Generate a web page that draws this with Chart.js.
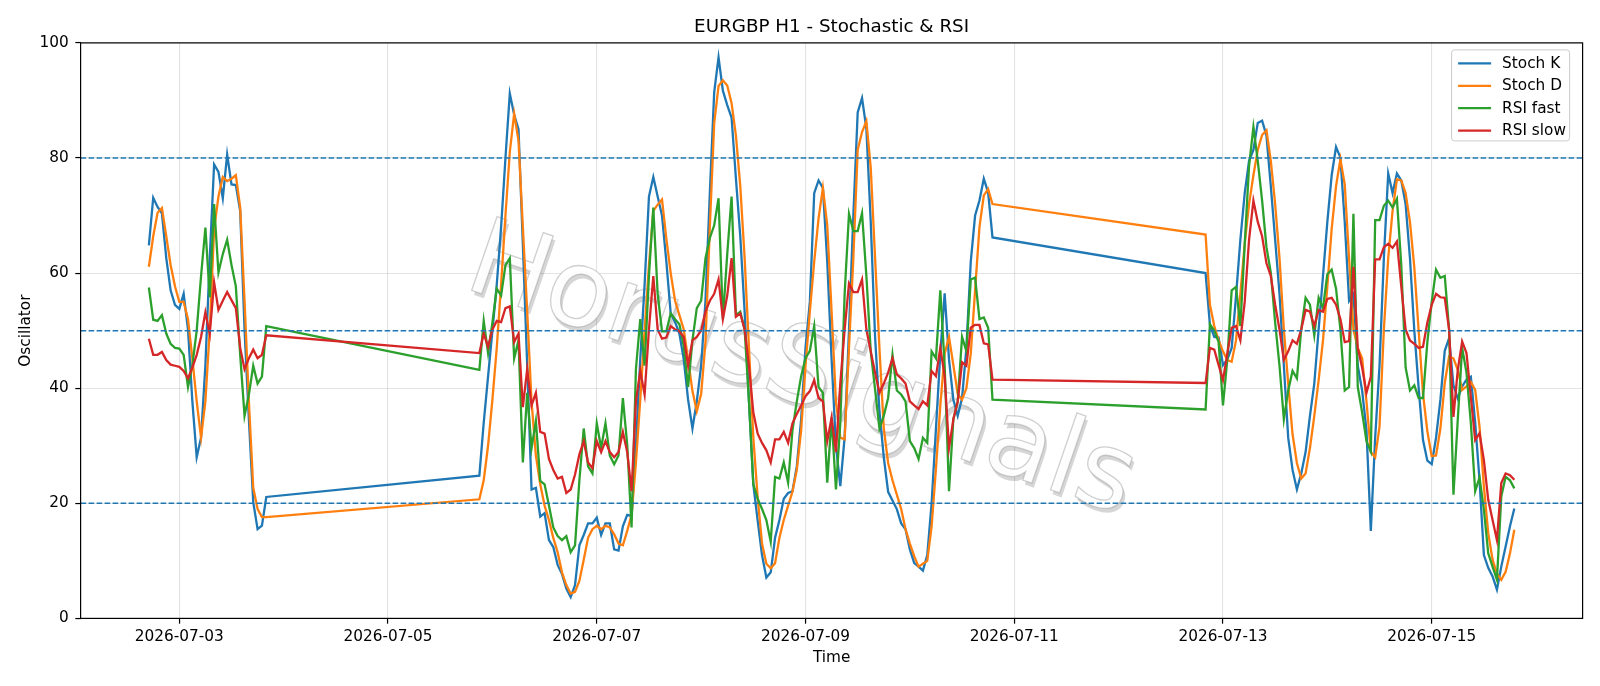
<!DOCTYPE html>
<html>
<head>
<meta charset="utf-8">
<script src="https://cdn.jsdelivr.net/npm/chart.js@4.4.1/dist/chart.umd.min.js"></script>
<style>html,body{margin:0;padding:0;background:#fff;}canvas{display:block;}</style>
</head>
<body>
<canvas id="c" width="1600" height="686"></canvas>
<script>
const chartTitle = 'EURGBP H1 - Stochastic & RSI';
const xAxisLabel = 'Time';
const yAxisLabel = 'Oscillator';
const watermarkText = 'HorusSignals';

// hourly sessions (weekend gaps between them)
const sessionStarts = ['2026-07-02T17:00:00Z', '2026-07-05T21:00:00Z', '2026-07-12T20:00:00Z'];
const sessionBars = [28, 119, 72];

const seriesNames = ['Stoch K', 'Stoch D', 'RSI fast', 'RSI slow'];
const seriesColors = ['#1f77b4', '#ff7f0e', '#2ca02c', '#d62728'];
const levelLines = [20, 50, 80];
const xTickDates = ['2026-07-03', '2026-07-05', '2026-07-07', '2026-07-09', '2026-07-11', '2026-07-13', '2026-07-15'];

const stochK = [
 64.8,73.1,71.5,70.4,62.6,57,54.5,53.8,56.4,50.2,37.7,28,31.4,44,62.6,78.9,77.6,73,80.6,75.4,75.3,70.8,50.2,34.6,20.2,15.5,16.1,21.1,
 24.8,34,42,50,58,68,80,91.2,87.5,85,
 65,44,22.4,22.7,17.7,18.3,13.6,12.4,9.3,7.7,
 5.2,3.7,5.8,12.7,14.5,16.5,16.5,17.5,14.5,16.5,
 16.5,12,11.8,16,18,17.8,30,45,58,73.3,
 76.7,73.3,70,62,53,51.5,49.5,45,38,33,
 37.7,43.9,55.2,73.9,91.4,97.5,91.7,89.2,87,76.4,
 66.4,53.3,37.7,23.3,17,11,7.1,8,14,17.1,
 20.8,21.8,22.1,26.4,34.6,47,55,73.9,76.1,74.8,
 62,45,30,23,31.5,50,70,87.9,90.4,85.1,
 68.9,48.9,36,28,22,20.5,19,16.5,15.5,12,
 9.6,9,8.3,11,20,33,46,56.5,45,38,
 35.2,38.3,47,62,70,72.6,76.4,74,66.2,
 60,51,48.9,48.8,44,45,47,56,65.8,73.9,
 79.5,81.4,86.1,86.5,83.9,75.1,65.8,56.4,43.9,31.4,
 25.8,22.4,25.2,28.9,35.2,40.8,50.2,59.5,68.9,77,
 81.9,80.1,68.9,55.2,56.4,43.9,39.6,32.7,15.2,31.4,
 43.9,62.6,77.3,73.9,77.3,76.1,72,62.6,50,40,
 31,27.4,26.8,31.4,38,46.5,48.7,40.5,38.2,40.3,
 41.5,42,34,24,11,8.8,7.3,5,9,12.5,
 16,19.1
];

const stochD = [
 61.1,66.4,70.5,71.3,66.4,61.4,57.7,55,55,52,45.2,37.7,31.4,37.7,50.2,67.6,73.3,76.7,76,76.4,77,71.4,55.2,37.7,22.7,19,17.6,17.6,
 20.7,24,30,38,47,58,70,81,87.7,83,
 68,53.3,37.7,28.3,23.3,19.6,17.1,14,11.5,8,
 5.8,4.3,4.6,6.5,10.2,14,15.5,16.1,15.5,16.1,
 15.8,14.6,13,12.7,15.2,18,27,38,50,61.4,
 70.8,71.9,72.8,66,60,55.2,52.7,50.2,45,39.5,
 36,39,48,68,86,92.5,93.5,92.6,89.5,83.9,
 75.1,62.6,47,31.4,21,13,9.5,8.7,9.6,14,
 17.1,19.6,22,25.8,32.7,43.9,53.3,62,69.5,74.8,
 68.3,53.3,37.7,31.4,31.1,47,62.6,81.4,84.5,86.4,
 78.3,62.6,47,33,27,24,21.5,19,15.5,13,
 10.8,9,9.5,10,16,26,37,46,48.9,44,
 39,38,40,46,57,68,73.5,74.6,72,
 66.7,54.5,50.8,48.3,46.4,44.9,44.6,48.3,56.4,65.1,
 72,77,81.4,84,84.8,79.5,72,62.6,50.2,40.8,
 32,27,24.3,25.2,29.6,35.2,41.4,48.3,57.7,67.7,
 75.1,79.8,75.4,62.6,50.2,47,45.2,37.7,28.9,28,
 33.3,50.2,62.6,70.8,76.3,76.1,73.9,68.9,61,50,
 39,32.5,28.2,28.3,33,40.9,45.5,45.2,43.2,39.7,
 40.3,41.1,39.7,33.3,22.9,14.8,10.2,7.8,6.7,8.1,
 11.3,15.4
];

const rsiFast = [
 57.5,51.9,51.7,52.7,49.5,47.7,47,46.9,45.8,40.2,44,50,59.5,67.9,55.8,72,60.1,63.3,65.8,61.4,57.7,45.8,35.2,38.9,43.9,40.8,42,50.8,
 43.2,51.7,46.1,51.4,57.3,56.1,61.4,62.6,45.2,48.3,
 27.1,39.2,29.6,34.3,23.9,23.3,19.6,15.8,14.3,13.6,
 14.3,11.5,12.7,24,33,26.4,25.2,33.9,29.6,33.9,
 28.3,26.8,28.3,38.3,30.2,15.8,43.3,52,43.9,59.5,
 71.4,56.4,49.9,49.9,53,52,51.1,47.3,40.2,48.3,
 53.9,55.2,62.6,66.1,68.3,73,52,63.3,73.3,52.7,
 53.3,50.2,37.7,23.3,20.8,19,17.1,13.3,24.6,24.3,
 27.1,23.6,32.7,37.7,42.1,45.2,46.5,50.8,40.2,39.2,
 23.6,34.9,22.4,33.9,56.4,70.3,67.3,67.3,70.4,59.5,
 46.4,39.8,33,35.2,38.3,45.8,39.6,38.9,37.7,30.8,
 29.6,27.7,31.4,30.5,46.4,45.2,57,43.9,22.1,34.6,
 37.7,48.9,46.4,58.9,59.2,52,52.3,50.5,38,
 36.3,51.1,50,48,37,45,57,57.6,50.8,65,
 78.6,85.4,79.5,72.6,64.5,60.1,51.4,43.9,34.6,39.6,
 43,41.7,50.2,55.7,54.5,49.2,55.7,53.9,59.8,60.6,
 57.3,50.2,39.6,40.2,70.3,40.2,35.8,30.8,29,69.2,
 69.2,71.7,72.6,71.4,72.9,61.4,43.6,39.6,40.5,38.3,
 38.3,48,55,60.6,59.2,59.5,50.2,21.5,34.6,47,
 42.7,34,22.1,24.5,18.9,11.3,9,6.7,21.2,24.6,
 24,22.6
];

const rsiSlow = [
 48.6,45.8,45.8,46.3,44.9,44.1,43.9,43.7,43,41.7,43.6,45.8,48.9,53.2,49.4,58.4,53.6,55.2,56.7,55.3,53.9,47,43.3,45.2,46.7,45.2,45.8,49.2,
 46.1,49.5,47.2,50.2,51.7,51.5,53.9,54.2,48,49.5,
 36.7,43.3,37,39.2,32.4,32.1,27.7,25.8,24.3,24.6,
 21.8,22.4,25,28.5,30.8,27.1,26.1,30.8,28.9,30.8,
 28.9,28,28.9,32.4,28.9,22.1,37.7,43,38.9,50.2,
 59.5,50.2,48.6,48.8,50.8,50.2,49.9,48.9,43.9,48.3,
 48.9,50,53.3,55.2,56.4,58.9,52,56.1,62.6,52.4,
 53,50.2,43.9,35.8,32.1,30.5,29.2,27.1,31.1,31.1,
 32.4,30.5,33.9,35.5,37,38.6,39.5,41.4,38.3,37.7,
 30.8,34.9,28.9,40.8,50.2,58.2,56.7,56.7,58.9,50.2,
 46.4,42.7,39.2,40.8,42.7,45.2,42.4,41.7,40.8,37.7,
 37,36.4,37.7,37,43,42.1,47,42.1,29.6,34.6,
 37.7,44.5,43.9,50.5,51,51,47.8,47.6,41.5,
 40.9,47,46.7,44,41.4,46,50.5,50.8,48.3,55,
 65.8,72.6,68.9,66.4,61.7,59.5,54.5,50.2,44.9,46.4,
 48.3,47.7,50.2,53.6,53.3,50.8,53.6,53.3,55.5,55.7,
 54.5,52,48,48.2,61.1,47,43.6,39.2,42,62.4,
 62.4,64.5,65.1,64.4,65.5,57.7,50.2,48.3,47.7,47,
 47.2,51.4,54.5,56.4,55.8,55.7,50.2,35,43.2,48.1,
 46.1,38.5,31,32.2,27.5,20.6,17.1,13.6,23.5,25.2,
 24.9,24.1
];

// ---- build time axis from the sessions ----
const HOUR = 3600000;
const times = [];
sessionStarts.forEach((s, k) => {
  const t0 = Date.parse(s);
  for (let i = 0; i < sessionBars[k]; i++) times.push(t0 + i * HOUR);
});
const tFirst = times[0], tLast = times[times.length - 1];
const span = tLast - tFirst;
const xMin = tFirst - 0.05 * span, xMax = tLast + 0.05 * span;

const LW = 2.3;
const seriesValues = [stochK, stochD, rsiFast, rsiSlow];
const datasets = seriesValues.map((arr, k) => ({
  label: seriesNames[k],
  data: arr.map((v, i) => ({ x: times[i], y: v })),
  borderColor: seriesColors[k],
  backgroundColor: seriesColors[k],
  borderWidth: LW,
  pointRadius: 0,
  pointHoverRadius: 0,
  fill: false,
  tension: 0,
  order: 3 - k
}));

const FONT = '"DejaVu Sans", "Liberation Sans", sans-serif';
const FS = 15.3;

const deco = {
  id: 'deco',
  beforeDraw(c) {
    const ctx = c.ctx;
    ctx.save(); ctx.fillStyle = '#ffffff'; ctx.fillRect(0, 0, c.width, c.height); ctx.restore();
  },
  beforeDatasetsDraw(c) {
    const ctx = c.ctx, a = c.chartArea;
    ctx.save();
    ctx.beginPath(); ctx.rect(a.left, a.top, a.right - a.left, a.bottom - a.top); ctx.clip();
    const cx = a.left + 0.4795 * (a.right - a.left);
    const cy = a.top + 0.576 * (a.bottom - a.top);
    ctx.translate(cx, cy);
    ctx.rotate(19 * Math.PI / 180);
    ctx.font = '107px ' + FONT;
    ctx.textAlign = 'center'; ctx.textBaseline = 'middle';
    ctx.fillStyle = 'rgba(0,0,0,0.16)';
    ctx.fillText(watermarkText, 3.5, 3.5);
    ctx.fillStyle = 'rgba(255,255,255,0.95)';
    ctx.fillText(watermarkText, 0, 0);
    ctx.strokeStyle = 'rgba(150,150,150,0.45)';
    ctx.lineWidth = 1.3;
    ctx.strokeText(watermarkText, 0, 0);
    ctx.restore();
  },
  afterDatasetsDraw(c) {
    const ctx = c.ctx, a = c.chartArea, ys = c.scales.y;
    ctx.save();
    ctx.beginPath(); ctx.rect(a.left, a.top, a.right - a.left, a.bottom - a.top); ctx.clip();
    ctx.strokeStyle = '#1f77b4';
    ctx.lineWidth = 1.5;
    ctx.setLineDash([5.6, 2.4]);
    levelLines.forEach(v => {
      const y = ys.getPixelForValue(v);
      ctx.beginPath(); ctx.moveTo(a.left, y); ctx.lineTo(a.right, y); ctx.stroke();
    });
    ctx.restore();
    ctx.save();
    ctx.strokeStyle = '#000'; ctx.lineWidth = 1.2;
    ctx.strokeRect(a.left, a.top, a.right - a.left, a.bottom - a.top);
    ctx.restore();
  },
  afterDraw(c) {
    const ctx = c.ctx, a = c.chartArea;
    const midX = (a.left + a.right) / 2, midY = (a.top + a.bottom) / 2;
    ctx.save();
    ctx.fillStyle = '#000';
    ctx.textAlign = 'center'; ctx.textBaseline = 'middle';
    ctx.font = '18.3px ' + FONT;
    ctx.fillText(chartTitle, midX, a.top - 16);
    ctx.font = FS + 'px ' + FONT;
    ctx.fillText(xAxisLabel, midX, a.bottom + 39.5);
    ctx.save();
    ctx.translate(a.left - 55, midY);
    ctx.rotate(-Math.PI / 2);
    ctx.fillText(yAxisLabel, 0, 0);
    ctx.restore();
    // legend
    const bx = a.right - 131, by = a.top + 7, bw = 118, bh = 91;
    const r = 3;
    ctx.beginPath();
    ctx.moveTo(bx + r, by); ctx.lineTo(bx + bw - r, by); ctx.quadraticCurveTo(bx + bw, by, bx + bw, by + r);
    ctx.lineTo(bx + bw, by + bh - r); ctx.quadraticCurveTo(bx + bw, by + bh, bx + bw - r, by + bh);
    ctx.lineTo(bx + r, by + bh); ctx.quadraticCurveTo(bx, by + bh, bx, by + bh - r);
    ctx.lineTo(bx, by + r); ctx.quadraticCurveTo(bx, by, bx + r, by);
    ctx.closePath();
    ctx.fillStyle = 'rgba(255,255,255,0.8)'; ctx.fill();
    ctx.strokeStyle = '#cccccc'; ctx.lineWidth = 1; ctx.stroke();
    ctx.textAlign = 'left';
    seriesNames.forEach((n, k) => {
      const y = by + 13.5 + k * 22.4;
      ctx.strokeStyle = seriesColors[k]; ctx.lineWidth = LW;
      ctx.beginPath(); ctx.moveTo(bx + 6.5, y); ctx.lineTo(bx + 39.5, y); ctx.stroke();
      ctx.fillStyle = '#000';
      ctx.fillText(n, bx + 50.5, y + 0.5);
    });
    ctx.restore();
  }
};

new Chart(document.getElementById('c'), {
  type: 'line',
  data: { datasets },
  options: {
    responsive: false,
    animation: false,
    devicePixelRatio: 1,
    layout: { padding: { top: 42.9, right: 17.4, left: 0, bottom: 0 } },
    plugins: { legend: { display: false }, title: { display: false }, tooltip: { enabled: false } },
    scales: {
      x: {
        type: 'linear',
        min: xMin, max: xMax,
        afterBuildTicks(s) { s.ticks = xTickDates.map(d => ({ value: Date.parse(d + 'T00:00:00Z') })); },
        afterFit(s) { s.height = 67.6; },
        ticks: {
          autoSkip: false, maxRotation: 0, minRotation: 0, padding: 4,
          color: '#000', font: { family: FONT, size: FS },
          callback: v => new Date(v).toISOString().slice(0, 10)
        },
        grid: { color: 'rgba(176,176,176,0.35)', lineWidth: 1.1, tickColor: '#000', tickLength: 5.3, tickWidth: 1.2 },
        border: { display: false }
      },
      y: {
        min: 0, max: 100,
        afterFit(s) { s.width = 80.6; },
        ticks: { stepSize: 20, padding: 6.5, color: '#000', font: { family: FONT, size: FS } },
        grid: { color: 'rgba(176,176,176,0.35)', lineWidth: 1.1, tickColor: '#000', tickLength: 5.3, tickWidth: 1.2 },
        border: { display: false }
      }
    }
  },
  plugins: [deco]
});
</script>
</body>
</html>
